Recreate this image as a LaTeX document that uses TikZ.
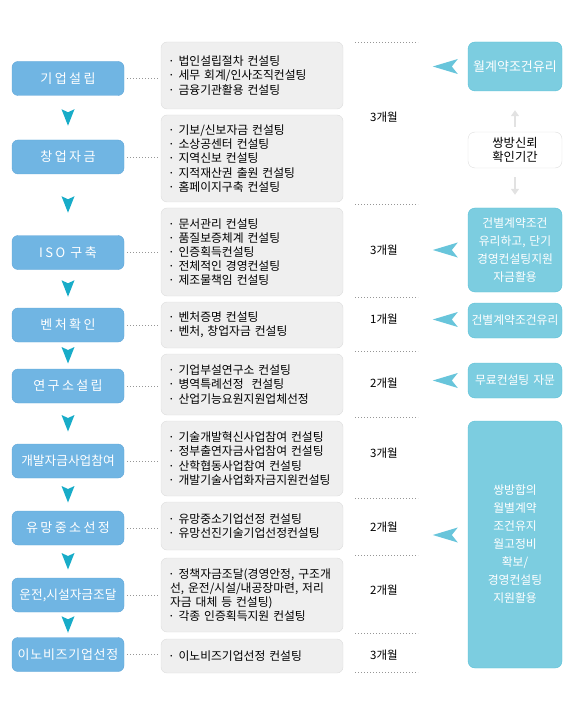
\documentclass[tikz,border=0pt]{standalone}
\usepackage{fontspec}
\setmainfont{Noto Sans CJK KR}
\usetikzlibrary{calc,arrows.meta}
\definecolor{stagefill}{RGB}{112,181,227}
\definecolor{stageline}{RGB}{96,166,216}
\definecolor{downcyan}{RGB}{24,172,200}
\definecolor{benefill}{RGB}{124,205,224}
\definecolor{beneline}{RGB}{88,192,214}
\definecolor{leftcyan}{RGB}{104,197,219}
\definecolor{detfill}{RGB}{239,239,239}
\definecolor{detline}{RGB}{221,221,221}
\definecolor{softgray}{RGB}{226,226,226}
\definecolor{dotgray}{RGB}{150,150,150}
\newcommand{\ls}{\kern2.4pt}
\begin{document}
\begin{tikzpicture}[x=1pt,y=-1pt,
  stagebox/.style={draw=stageline, fill=stagefill, rounded corners=6pt, minimum width=112pt, minimum height=34pt, text=white, inner sep=0pt, font=\fontsize{13}{15}\selectfont},
  detailbox/.style={draw=detline, fill=detfill, rounded corners=6pt, minimum width=182pt, text width=168pt, align=left, inner xsep=7pt, inner ysep=0pt, font=\fontsize{11.8}{14.2}\selectfont},
  benefitbox/.style={draw=beneline, fill=benefill, rounded corners=7pt, minimum width=94pt, text width=92pt, align=center, inner xsep=1pt, inner ysep=0pt, text=white, font=\fontsize{11.8}{18}\selectfont},
  trustbox/.style={draw=detline, fill=white, rounded corners=7pt, minimum width=94pt, text width=92pt, align=center, inner xsep=1pt, inner ysep=0pt, text=black, font=\fontsize{12.3}{13.5}\selectfont},
  monthlabel/.style={font=\fontsize{11.5}{13}\selectfont, text=black, inner sep=0pt},
  dotconn/.style={draw=dotgray, line width=0.6pt, dash pattern=on 0.8pt off 2.2pt},
  sepline/.style={draw=dotgray, line width=0.6pt, dash pattern=on 0.8pt off 2.2pt},
  softarrow/.style={draw=softgray, line width=2pt, -{Triangle[width=8pt,length=6pt]}},
  downtri/.pic={\fill[downcyan] (-6.5,-8.5) -- (0,-5.5) -- (6.5,-8.5) -- (0,8) -- cycle;},
  lefttri/.pic={\fill[leftcyan] (-12.5,0) -- (12.5,-7.5) -- (6.5,0) -- (12.5,7.5) -- cycle;}
]
\useasboundingbox (0,0) rectangle (570,727);

% left stage boxes
\node[stagebox] (b1) at (68,78.5) {기\ls 업\ls 설\ls 립};
\node[stagebox] (b2) at (68,157) {창\ls 업\ls 자\ls 금};
\node[stagebox] (b3) at (68,252.5) {I\ls S\ls O\ls \ 구\ls 축};
\node[stagebox] (b4) at (68,325) {벤\ls 처\ls 확\ls 인};
\node[stagebox] (b5) at (68,386) {연\ls 구\ls 소\ls 설\ls 립};
\node[stagebox, font=\fontsize{12.7}{15}\selectfont] (b6) at (68,461) {개발자금사업참여};
\node[stagebox] (b7) at (68,528) {유\ls 망\ls 중\ls 소\ls 선\ls 정};
\node[stagebox, font=\fontsize{12.7}{15}\selectfont] (b8) at (68,595) {운전,시설자금조달};
\node[stagebox] (b9) at (68,654.5) {이\kern0.7pt 노\kern0.7pt 비\kern0.7pt 즈\kern0.7pt 기\kern0.7pt 업\kern0.7pt 선\kern0.7pt 정};

% down arrows
\pic at ($(b1.south)!0.5!(b2.north)$) {downtri};
\pic at ($(b2.south)!0.5!(b3.north)$) {downtri};
\pic at ($(b3.south)!0.5!(b4.north)$) {downtri};
\pic at ($(b4.south)!0.5!(b5.north)$) {downtri};
\pic at ($(b5.south)!0.5!(b6.north)$) {downtri};
\pic at ($(b6.south)!0.5!(b7.north)$) {downtri};
\pic at ($(b7.south)!0.5!(b8.north)$) {downtri};
\pic at ($(b8.south)!0.5!(b9.north)$) {downtri};

% detail boxes
\node[detailbox, minimum height=67pt] (g1) at (252,75.5) {· 법인설립절차 컨설팅\\· 세무 회계/인사조직컨설팅\\· 금융기관활용 컨설팅};
\node[detailbox, minimum height=87pt] (g2) at (252,158.5) {· 기보/신보자금 컨설팅\\· 소상공센터 컨설팅\\· 지역신보 컨설팅\\· 지적재산권 출원 컨설팅\\· 홈페이지구축 컨설팅};
\node[detailbox, minimum height=88pt] (g3) at (252,252) {· 문서관리 컨설팅\\· 품질보증체계 컨설팅\\· 인증획득컨설팅\\· 전체적인 경영컨설팅\\· 제조물책임 컨설팅};
\node[detailbox, minimum height=46pt] (g4) at (252,325) {· 벤처증명 컨설팅\\· 벤처, 창업자금 컨설팅};
\node[detailbox, minimum height=61pt] (g5) at (252,384.5) {· 기업부설연구소 컨설팅\\· 병역특례선정\ \ 컨설팅\\· 산업기능요원지원업체선정};
\node[detailbox, minimum height=75pt] (g6) at (252,458.5) {· 기술개발혁신사업참여 컨설팅\\· 정부출연자금사업참여 컨설팅\\· 산학협동사업참여 컨설팅\\· 개발기술사업화자금지원컨설팅};
\node[detailbox, minimum height=48pt] (g7) at (252,526) {· 유망중소기업선정 컨설팅\\· 유망선진기술기업선정컨설팅};
\node[detailbox, minimum height=74pt] (g8) at (252,595) {· 정책자금조달(경영안정, 구조개\\\hspace*{2pt}선, 운전/시설/내공장마련, 저리\\\hspace*{2pt}자금 대체 등 컨설팅)\\· 각종 인증획득지원 컨설팅};
\node[detailbox, minimum height=34pt] (g9) at (252,656) {· 이노비즈기업선정 컨설팅};

% dotted connectors
\foreach \i in {1,...,9} {
  \draw[dotconn, shorten <=3pt, shorten >=1pt] (b\i.east) -- (b\i.east -| g\i.west);
}

% separators
\foreach \yy in {42,204,297,351,417,498,555,633,672} {
  \draw[sepline] (355,\yy) -- (418,\yy);
}

% month labels
\node[monthlabel] (m1) at (384,117) {3개월};
\node[monthlabel] (m2) at (384,250) {3개월};
\node[monthlabel] (m3) at (384,319) {1개월};
\node[monthlabel] (m4) at (384,383) {2개월};
\node[monthlabel] (m5) at (384,453) {3개월};
\node[monthlabel] (m6) at (384,527) {2개월};
\node[monthlabel] (m7) at (384,590) {2개월};
\node[monthlabel] (m8) at (384,655) {3개월};

% right boxes
\node[benefitbox, minimum height=49pt, font=\fontsize{13}{18}\selectfont] (r1) at (515,66.5) {월계약조건유리};
\node[trustbox, minimum height=36pt] (r2) at (515,150) {쌍방신뢰\\확인기간};
\node[benefitbox, minimum height=84pt] (r3) at (515,250) {건별계약조건\\유리하고, 단기\\경영컨설팅지원\\자금활용};
\node[benefitbox, minimum height=35pt] (r4) at (515,320.5) {건별계약조건유리};
\node[benefitbox, minimum height=35pt] (r5) at (515,380.5) {무료컨설팅 자문};
\node[benefitbox, minimum height=247pt] (r6) at (515,544.5) {쌍방합의\\월별계약\\조건유지\\월고정비\\확보/\\경영컨설팅\\지원활용};

% soft gray arrows
\draw[softarrow, shorten <=5pt, shorten >=19pt] (r2.north) -- (r1.south);
\draw[softarrow, shorten <=9pt, shorten >=13pt] (r2.south) -- (r3.north);

% left pointing markers
\pic at ($(r1.west)+(-22.5,0)$) {lefttri};
\pic at ($(r3.west)+(-22.5,0)$) {lefttri};
\pic at ($(r4.west)+(-22.5,-1)$) {lefttri};
\pic at ($(r5.west)+(-22.5,0)$) {lefttri};
\pic at ($(r6.west)+(-22.5,-9.5)$) {lefttri};
\end{tikzpicture}
\end{document}
